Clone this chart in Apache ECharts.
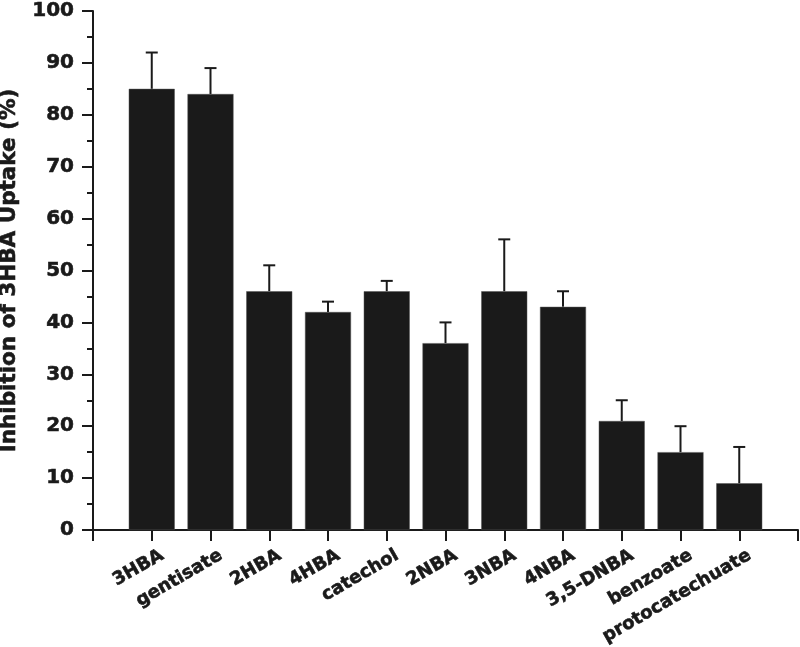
<!DOCTYPE html>
<html>
<head>
<meta charset="utf-8">
<script src="https://cdn.jsdelivr.net/npm/echarts@6/dist/echarts.min.js"></script>
<style>html,body{margin:0;padding:0;background:#fff;}#c{width:800px;height:647px;}</style>
</head>
<body>
<div id="c"></div>
<script>
var categories = ['3HBA','gentisate','2HBA','4HBA','catechol','2NBA','3NBA','4NBA','3,5-DNBA','benzoate','protocatechuate'];
var means = [85, 84, 46, 42, 46, 36, 46, 43, 21, 15, 9];
var upper = [92, 89, 51, 44, 48, 40, 56, 46, 25, 20, 16];
var yTicks = [0, 10, 20, 30, 40, 50, 60, 70, 80, 90, 100];

var axisCats = [''].concat(categories).concat(['']);
var barData = ['-'].concat(means).concat(['-']);
var errData = categories.map(function (c, i) { return [i + 1, means[i], upper[i]]; });

var ink = '#1a1a1a';
var chart = echarts.init(document.getElementById('c'));
chart.setOption({
  animation: false,
  grid: { left: 93, right: 2, top: 11, bottom: 117, containLabel: false, outerBoundsMode: 'none' },
  xAxis: {
    type: 'category',
    data: axisCats,
    boundaryGap: false,
    axisLine: { lineStyle: { color: ink, width: 2 } },
    axisTick: { show: true, length: 11, lineStyle: { color: ink, width: 2 } },
    axisLabel: {
      interval: 0, rotate: 30, margin: 6, color: ink,
      fontFamily: 'DejaVu Sans', fontWeight: 'bold', fontSize: 18,
      textBorderColor: ink, textBorderWidth: 0.6,
      verticalAlign: 'top', padding: [12, 0, 0, 0]
    },
    splitLine: { show: false }
  },
  yAxis: {
    type: 'value',
    min: yTicks[0], max: yTicks[yTicks.length - 1], interval: 10,
    name: 'Inhibition of 3HBA Uptake (%)',
    nameLocation: 'middle', nameGap: 70, nameRotate: 90,
    nameTextStyle: { fontFamily: 'DejaVu Sans', fontWeight: 'bold', fontSize: 21.5, color: ink, textBorderColor: ink, textBorderWidth: 0.6 },
    axisLine: { show: true, lineStyle: { color: ink, width: 2 } },
    axisTick: { show: true, length: 11, lineStyle: { color: ink, width: 2 } },
    minorTick: { show: true, splitNumber: 2, length: 6, lineStyle: { color: ink, width: 2 } },
    axisLabel: { margin: 19, color: ink, fontFamily: 'DejaVu Sans', fontWeight: 'bold', fontSize: 20, textBorderColor: ink, textBorderWidth: 0.6 },
    splitLine: { show: false }
  },
  series: [
    {
      type: 'bar', data: barData, barWidth: 46,
      itemStyle: { color: ink, borderColor: '#555', borderWidth: 0.5 }
    },
    {
      type: 'custom', data: errData, z: 1,
      renderItem: function (params, api) {
        var x = api.value(0);
        var base = api.coord([x, api.value(1)]);
        var top = api.coord([x, api.value(2)]);
        var hw = 6;
        return {
          type: 'group',
          children: [
            { type: 'line', shape: { x1: base[0], y1: base[1], x2: top[0], y2: top[1] }, style: { stroke: ink, lineWidth: 2 } },
            { type: 'line', shape: { x1: top[0] - hw, y1: top[1], x2: top[0] + hw, y2: top[1] }, style: { stroke: ink, lineWidth: 2 } }
          ]
        };
      }
    }
  ]
});
</script>
</body>
</html>
